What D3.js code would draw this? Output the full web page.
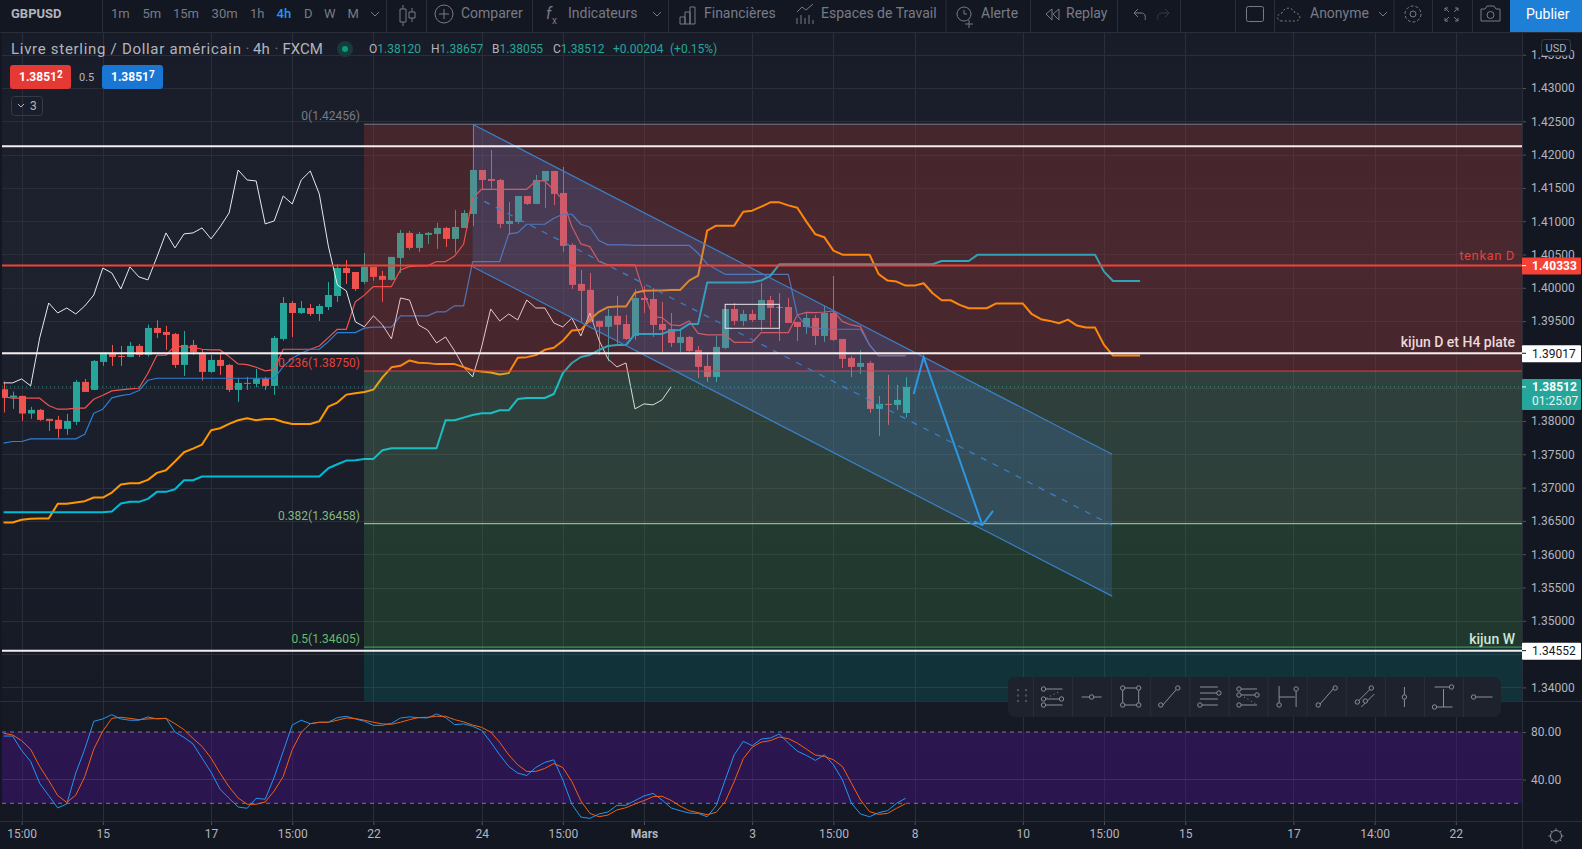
<!DOCTYPE html>
<html>
<head>
<meta charset="utf-8">
<script src="https://cdn.jsdelivr.net/npm/d3@7"></script>
<style>
  html, body { margin: 0; padding: 0; background: #131722; overflow: hidden; }
  text { font-family: Roboto, sans-serif; }
</style>
</head>
<body>
<div id="tile"></div>
<script>
var openP = [1.38477,1.38352,1.38377,1.38112,1.38167,1.38032,1.38017,1.37882,1.37987,1.38587,
  1.38467,1.38887,1.39007,1.38977,1.38962,1.39127,1.38992,1.39397,1.39337,1.39307,
  1.38842,1.39142,1.39007,1.38737,1.38917,1.38842,1.38467,1.38557,1.38557,1.38632,
  1.38527,1.39232,1.39772,1.39622,1.39697,1.39607,1.39712,1.39877,1.40297,1.40237,
  1.40089,1.40314,1.40179,1.40119,1.40449,1.40824,1.40599,1.40794,1.40809,1.40899,
  1.40734,1.40899,1.41109,1.41769,1.41634,1.41619,1.40959,1.40989,1.41379,1.41259,
  1.41604,1.41754,1.41424,1.40644,1.40059,1.39969,1.39504,1.39414,1.39579,1.39457,
  1.39277,1.39847,1.39832,1.39457,1.39382,1.39172,1.39262,1.39067,1.38827,1.38662,
  1.39097,1.39682,1.39502,1.39607,1.39517,1.39817,1.39712,1.39712,1.39487,1.39412,
  1.39547,1.39277,1.39622,1.39232,1.38947,1.38812,1.38872,1.38182,1.38257,1.38242,1.3812];
var closeP = [1.38347,1.38382,1.38112,1.38167,1.38017,1.38002,1.37882,1.38002,1.38587,1.38437,
  1.38902,1.39007,1.38962,1.38962,1.39127,1.38992,1.39397,1.39322,1.39292,1.38842,
  1.39142,1.39037,1.38737,1.38917,1.38827,1.38467,1.38572,1.38572,1.38632,1.38527,
  1.39247,1.39772,1.39622,1.39697,1.39607,1.39727,1.39892,1.40297,1.40222,1.39982,
  1.40314,1.40164,1.40119,1.40464,1.40824,1.40599,1.40809,1.40824,1.40899,1.40734,
  1.40914,1.41124,1.41769,1.41619,1.41604,1.40959,1.41004,1.41379,1.41259,1.41619,
  1.41754,1.41409,1.40629,1.40044,1.39954,1.39489,1.39414,1.39579,1.39444,1.39232,
  1.39847,1.39817,1.39442,1.39367,1.39172,1.39262,1.39052,1.38812,1.38662,1.39112,
  1.39682,1.39502,1.39607,1.39517,1.39817,1.39697,1.39697,1.39472,1.39412,1.39547,
  1.39277,1.39622,1.39217,1.38932,1.38812,1.38872,1.38182,1.38257,1.38242,1.38317,1.38512];
var highP = [1.38592,1.38442,1.38377,1.38212,1.38182,1.38032,1.38077,1.38107,1.38617,1.38632,
  1.38917,1.39017,1.39142,1.39127,1.39187,1.39157,1.39447,1.39512,1.39427,1.39322,
  1.39352,1.39217,1.39082,1.38992,1.39007,1.38857,1.38647,1.38662,1.38782,1.38662,
  1.39277,1.39862,1.39802,1.39802,1.39757,1.39757,1.40087,1.40357,1.40417,1.40237,
  1.40524,1.40314,1.40254,1.40464,1.40869,1.40854,1.40839,1.40839,1.40974,1.40914,
  1.41169,1.41169,1.42456,1.41769,1.42069,1.41634,1.41289,1.41379,1.41379,1.41694,
  1.41754,1.41754,1.41814,1.40669,1.40269,1.40224,1.39504,1.39684,1.39879,1.39592,
  1.39982,1.40027,1.39997,1.39787,1.39622,1.39382,1.39277,1.39127,1.39007,1.39277,
  1.39682,1.39772,1.39667,1.39667,1.40072,1.39877,1.39922,1.39847,1.39487,1.39622,
  1.39592,1.39727,1.40177,1.39232,1.38977,1.39067,1.38902,1.38377,1.38692,1.38542,1.38657];
var lowP = [1.38127,1.38182,1.38002,1.38032,1.38002,1.37852,1.37747,1.37792,1.37942,1.38437,
  1.38467,1.38827,1.38827,1.38827,1.38962,1.38962,1.38967,1.39247,1.39067,1.38797,
  1.38677,1.38992,1.38607,1.38722,1.38692,1.38437,1.38287,1.38467,1.38507,1.38467,
  1.38392,1.39207,1.39262,1.39607,1.39577,1.39502,1.39667,1.39787,1.40057,1.39952,
  1.40059,1.40104,1.39789,1.40109,1.40224,1.40569,1.40539,1.40659,1.40584,1.40614,
  1.40524,1.40899,1.40929,1.41469,1.41484,1.40899,1.40794,1.40959,1.41244,1.41259,
  1.41199,1.41244,1.40539,1.39984,1.39489,1.39474,1.38994,1.38894,1.39129,1.39217,
  1.39217,1.39622,1.39262,1.39037,1.39112,1.39037,1.39037,1.38647,1.38587,1.38587,
  1.39082,1.39442,1.39427,1.39487,1.39352,1.39412,1.39202,1.39472,1.39202,1.39307,
  1.39142,1.39187,1.39202,1.38797,1.38662,1.38707,1.38122,1.37777,1.37942,1.38167,1.38055];

var tenkan = [1.38367,1.38342,1.38342,1.38342,1.38342,1.38232,1.38177,1.38177,1.38192,1.38192,
  1.38327,1.38387,1.38452,1.38467,1.38482,1.38492,1.38717,1.38987,1.38987,1.39132,
  1.39107,1.39107,1.39077,1.39067,1.39067,1.38967,1.38857,1.38847,1.38807,1.38752,
  1.38772,1.39077,1.39077,1.39077,1.39077,1.39127,1.39252,1.39377,1.39377,1.39792,
  1.39890,1.40019,1.40019,1.40019,1.40269,1.40319,1.40329,1.40329,1.40394,1.40394,
  1.40479,1.40654,1.41344,1.41479,1.41479,1.41479,1.41479,1.41479,1.41479,1.41604,
  1.41604,1.41469,1.41319,1.40919,1.40659,1.40619,1.40394,1.40344,1.40344,1.40344,
  1.40344,1.39917,1.39567,1.39552,1.39442,1.39432,1.39502,1.39317,1.39292,1.39292,
  1.39292,1.39182,1.39182,1.39182,1.39327,1.39327,1.39327,1.39327,1.39592,1.39632,
  1.39627,1.39637,1.39652,1.39492,1.39442,1.39417,1.39142,1.38983,1.38983,1.38983,1.38983];
var kijun = [1.37667,1.37692,1.37692,1.37732,1.37732,1.37732,1.37732,1.37732,1.37732,1.37802,
  1.38117,1.38177,1.38347,1.38382,1.38402,1.38457,1.38612,1.38642,1.38642,1.38642,
  1.38642,1.38642,1.38642,1.38642,1.38642,1.38642,1.38642,1.38642,1.38642,1.38642,
  1.38642,1.38817,1.38942,1.39017,1.39077,1.39077,1.39192,1.39327,1.39327,1.39327,
  1.39394,1.39409,1.39409,1.39409,1.39579,1.39579,1.39579,1.39579,1.39639,1.39639,
  1.39729,1.39729,1.40394,1.40394,1.40394,1.40394,1.40809,1.40829,1.40954,1.40954,
  1.40954,1.41044,1.41104,1.41104,1.40954,1.40909,1.40709,1.40644,1.40644,1.40644,
  1.40638,1.40638,1.40638,1.40638,1.40638,1.40638,1.40638,1.40518,1.40358,1.40278,
  1.40203,1.40203,1.40203,1.40203,1.40203,1.40203,1.40203,1.40203,1.39593,1.39418,
  1.39403,1.39378,1.39378,1.39378,1.39378,1.39378,1.39143,1.38983,1.38983,1.38983,1.38983];
var chikou = [1.38572,1.38572,1.38632,1.38527,1.39247,1.39772,1.39622,1.39697,1.39607,1.39727,
  1.39892,1.40297,1.40222,1.39982,1.40314,1.40164,1.40119,1.40464,1.40824,1.40599,
  1.40809,1.40824,1.40899,1.40734,1.40914,1.41124,1.41769,1.41619,1.41604,1.40959,
  1.41004,1.41379,1.41259,1.41619,1.41754,1.41409,1.40629,1.40044,1.39954,1.39489,
  1.39414,1.39579,1.39444,1.39232,1.39847,1.39817,1.39442,1.39367,1.39172,1.39262,
  1.39052,1.38812,1.38662,1.39112,1.39682,1.39502,1.39607,1.39517,1.39817,1.39697,
  1.39697,1.39472,1.39412,1.39547,1.39277,1.39622,1.39217,1.38932,1.38812,1.38872,
  1.38182,1.38257,1.38242,1.38317,1.38512];
var spanA = [1.36476,1.36476,1.36516,1.36531,1.36536,1.36536,1.36756,1.36756,1.36776,1.36796,
  1.36851,1.36851,1.36926,1.37046,1.37066,1.37066,1.37116,1.37221,1.37261,1.37391,
  1.37531,1.37586,1.37646,1.37861,1.37891,1.37956,1.38011,1.38041,1.38011,1.38031,
  1.38031,1.37986,1.37956,1.37956,1.37956,1.37996,1.38216,1.38276,1.38396,1.38416,
  1.38436,1.38471,1.38655,1.38806,1.38829,1.38909,1.38874,1.38869,1.38854,1.38854,
  1.38854,1.38809,1.38759,1.38744,1.38729,1.38699,1.38719,1.38949,1.38959,1.38989,
  1.39069,1.39099,1.39204,1.39359,1.39369,1.39519,1.39639,1.39709,1.39719,1.39719,
  1.39926,1.39956,1.39958,1.39958,1.39968,1.39968,1.40108,1.40183,1.40858,1.40933,
  1.40933,1.40933,1.41143,1.41158,1.41218,1.41283,1.41283,1.41238,1.41203,1.40993,
  1.40803,1.40758,1.40558,1.40498,1.40498,1.40498,1.40498,1.40208,1.40108,1.40093,
  1.40033,1.40033,1.40068,1.39918,1.39813,1.39813,1.39743,1.39693,1.39693,1.39693,
  1.39763,1.39763,1.39763,1.39763,1.39603,1.39528,1.39503,1.39468,1.39523,1.39433,
  1.39403,1.39403,1.39143,1.38983,1.38983,1.38983,1.38983];
var spanB = [1.36631,1.36631,1.36631,1.36631,1.36631,1.36631,1.36631,1.36631,1.36631,1.36631,
  1.36631,1.36631,1.36641,1.36761,1.36786,1.36786,1.36831,1.36936,1.36936,1.36976,
  1.37111,1.37111,1.37166,1.37166,1.37166,1.37166,1.37166,1.37166,1.37166,1.37166,
  1.37166,1.37166,1.37166,1.37166,1.37166,1.37166,1.37291,1.37351,1.37406,1.37411,
  1.37431,1.37431,1.37561,1.37591,1.37591,1.37591,1.37591,1.37591,1.37591,1.38011,
  1.38011,1.38051,1.38091,1.38116,1.38116,1.38161,1.38161,1.38330,1.38345,1.38345,
  1.38345,1.38405,1.38720,1.38871,1.38961,1.38991,1.39066,1.39126,1.39141,1.39141,
  1.39306,1.39306,1.39308,1.39308,1.39358,1.39368,1.39458,1.39458,1.40078,1.40078,
  1.40078,1.40078,1.40078,1.40083,1.40108,1.40178,1.40353,1.40353,1.40353,1.40353,
  1.40353,1.40353,1.40353,1.40353,1.40353,1.40353,1.40353,1.40353,1.40353,1.40353,
  1.40353,1.40353,1.40353,1.40353,1.40403,1.40403,1.40403,1.40403,1.40498,1.40498,
  1.40498,1.40498,1.40498,1.40498,1.40498,1.40498,1.40498,1.40498,1.40498,1.40498,
  1.40498,1.40498,1.40243,1.40103,1.40103,1.40103,1.40103];

var stochK = [76.6,76.6,64.5,55.2,36.9,26.5,16.1,19.4,45.4,65.6,89.0,91.0,94.6,91.0,89.9,89.9,92.7,91.0,91.5,80.0,
  75.5,69.9,58.0,46.2,31.8,24.2,16.9,15.8,24.2,23.4,42.0,63.7,85.9,89.9,87.0,88.2,88.2,92.1,93.2,91.0,
  89.0,85.6,85.6,87.3,91.8,92.7,92.1,91.8,95.2,92.1,86.2,86.8,84.8,81.4,71.5,60.8,51.0,45.4,43.4,50.1,
  54.4,56.6,39.7,19.2,8.4,7.3,11.0,12.7,18.3,18.3,22.3,26.2,28.4,22.8,16.1,13.8,11.8,11.5,8.7,18.0,
  39.7,60.8,72.1,68.5,74.1,74.9,78.3,70.7,63.9,60.3,56.1,60.8,52.4,39.7,20.0,11.0,8.7,12.1,13.8,20.0,24.2];
var stochD = [78.9,77.5,72.7,65.4,51.0,39.2,26.5,20.8,26.8,42.5,65.6,80.8,91.5,92.4,91.5,90.4,91.0,91.3,91.5,87.0,
  82.0,74.6,67.9,58.0,45.4,33.8,24.5,19.2,19.2,21.1,30.4,42.5,65.1,79.7,87.0,88.2,88.2,89.9,91.8,91.3,
  89.9,88.2,86.8,86.5,88.2,90.4,92.1,92.4,93.2,93.2,90.4,88.5,85.9,83.9,80.0,71.3,60.8,52.4,46.8,46.8,
  49.3,53.5,50.1,38.3,22.0,11.5,8.7,10.1,14.4,16.3,19.4,22.3,25.6,25.9,22.5,17.7,13.8,12.1,10.4,12.4,
  21.4,38.3,57.5,67.3,71.5,72.7,75.8,74.4,70.7,65.6,60.6,59.4,56.6,51.0,36.9,22.8,13.0,10.7,11.5,15.8,19.7];

var timeIdx = [2,11,23,32,41,53,62,71,83,92,101,113,122,131,143,152,161];
var timeLabels = ["15:00","15","17","15:00","22","24","15:00","Mars","3","15:00","8","10","15:00","15","17","14:00","22"];
var priceTicks = [1.34,1.345,1.35,1.355,1.36,1.365,1.37,1.375,1.38,1.385,1.39,1.395,1.4,1.405,1.41,1.415,1.42,1.425,1.43,1.435];
var hiddenTicks = [1.345,1.385,1.39]; // covered by the price badges
var stochTicks = [80,40];

var fibLevels = [1.42456,1.3875,1.36458,1.34605];
var fibLabels = ["0(1.42456)","0.236(1.38750)","0.382(1.36458)","0.5(1.34605)"];
var whiteLevels = [1.42125,1.39017,1.34552];
var tenkanD = 1.40333, lastClose = 1.38512;

var channelTop = [[52,1.42456],[122.9,1.3750]];
var channelMid = [[52,1.41387],[122.9,1.36435]];
var channelBot = [[52,1.40317],[122.9,1.3537]];
var arrowPts = [[100.9,1.38405],[102,1.3896],[108.5,1.36438]];
var arrowHead = [[107.6,1.36490],[108.5,1.36438],[109.7,1.36650]];
var boxI = [80.0,86.0], boxP = [1.39752,1.39392];

var W = 1582, H = 849, axisX = 1522, topY = 33, paneY = 701, timeY = 821;

var x = d3.scaleLinear().domain([0,161]).range([3.6,1455.8]);
var y = d3.scaleLinear().domain([1.34,1.43]).range([687.4,88]);
var ys = d3.scaleLinear().domain([20,80]).range([803.3,732]);

var svg = d3.select("#tile").append("svg").attr("width", W).attr("height", H).style("display","block");
var defs = svg.append("defs");

var grad = defs.append("linearGradient").attr("id","bg").attr("x1",0).attr("x2",0).attr("y1",0).attr("y2",1);
grad.append("stop").attr("offset","0%").attr("stop-color","#171b27");
grad.append("stop").attr("offset","30%").attr("stop-color","#1e222e");
grad.append("stop").attr("offset","100%").attr("stop-color","#131722");

defs.append("clipPath").attr("id","pricePane").append("rect").attr("x",2).attr("y",topY).attr("width",axisX-2).attr("height",paneY-topY);
defs.append("clipPath").attr("id","stochPane").append("rect").attr("x",2).attr("y",paneY).attr("width",axisX-2).attr("height",timeY-paneY);

svg.append("rect").attr("width",W).attr("height",H).attr("fill","url(#bg)");

// grid
var grid = svg.append("g").attr("stroke","#2a2e39").attr("stroke-width",1);
priceTicks.forEach(function(p){
  grid.append("line").attr("x1",2).attr("x2",axisX).attr("y1",Math.round(y(p))+.5).attr("y2",Math.round(y(p))+.5);
});
timeIdx.forEach(function(i){
  grid.append("line").attr("x1",Math.round(x(i))+.5).attr("x2",Math.round(x(i))+.5).attr("y1",topY).attr("y2",timeY);
});

var price = svg.append("g").attr("clip-path","url(#pricePane)");

// candles
var idx = d3.range(openP.length);
var up = "#26a69a", down = "#ef5350";
function col(i){ return closeP[i] >= openP[i] ? up : down; }
price.append("g").selectAll("line").data(idx).enter().append("line")
  .attr("x1",function(i){return Math.round(x(i))+.5;})
  .attr("x2",function(i){return Math.round(x(i))+.5;})
  .attr("y1",function(i){return y(highP[i]);})
  .attr("y2",function(i){return y(lowP[i]);})
  .attr("stroke",col);
price.append("g").selectAll("rect").data(idx).enter().append("rect")
  .attr("x",function(i){return Math.round(x(i))-3;})
  .attr("width",7)
  .attr("y",function(i){return y(Math.max(openP[i],closeP[i]));})
  .attr("height",function(i){return Math.max(1,Math.abs(y(openP[i])-y(closeP[i])));})
  .attr("fill",col);

// ichimoku
var line = d3.line().x(function(d,i){return x(i);}).y(function(d){return y(d);});
function drawLine(g, data, color, w){
  g.append("path").attr("d",line(data)).attr("fill","none").attr("stroke",color).attr("stroke-width",w).attr("stroke-linejoin","round");
}
drawLine(price, tenkan, "#ef5350", 1.2);
drawLine(price, kijun, "#2d7fd3", 1.2);
drawLine(price, chikou, "#e6e8ee", 1);
drawLine(price, spanA, "#ff9800", 2);
drawLine(price, spanB, "#00bcd4", 2);

// fib zones sit on top of the candles
var fibLeft = 364;
var zoneColors = ["#f44336","#81c784","#4caf50","#009688"];
var lineColors = ["#787b86","#e5403a","#a5d6a7","#4caf50"];
var zoneEdges = fibLevels.concat([y.invert(paneY)]);
for (var z = 0; z < 4; z++) {
  price.append("rect").attr("x",fibLeft).attr("width",axisX-fibLeft)
    .attr("y",y(zoneEdges[z])).attr("height",y(zoneEdges[z+1])-y(zoneEdges[z]))
    .attr("fill",zoneColors[z]).attr("fill-opacity",.2);
}
fibLevels.forEach(function(p,k){
  price.append("line").attr("x1",fibLeft).attr("x2",axisX).attr("y1",y(p)).attr("y2",y(p)).attr("stroke",lineColors[k]);
  svg.append("text").attr("x",fibLeft-4).attr("y",y(p)-4).attr("text-anchor","end").attr("font-size",12)
    .attr("fill",["#787b86","#e5403a","#81b884","#66bb6a"][k]).text(fibLabels[k]);
});

// last price dots
price.append("line").attr("x1",2).attr("x2",axisX).attr("y1",y(lastClose)).attr("y2",y(lastClose))
  .attr("stroke","#26a69a").attr("stroke-dasharray","1 3").attr("opacity",.9);

// channel
var pt = function(d){ return [x(d[0]),y(d[1])]; };
var poly = channelTop.concat(channelBot.slice().reverse()).map(pt);
price.append("polygon").attr("points",poly.join(" ")).attr("fill","#4a86e0").attr("fill-opacity",.2);
var seg = d3.line().x(function(d){return x(d[0]);}).y(function(d){return y(d[1]);});
price.append("path").attr("d",seg(channelTop)).attr("stroke","#3a80c8").attr("fill","none").attr("stroke-width",1.2);
price.append("path").attr("d",seg(channelBot)).attr("stroke","#3a80c8").attr("fill","none").attr("stroke-width",1.2);
price.append("path").attr("d",seg(channelMid)).attr("stroke","#3a80c8").attr("fill","none").attr("stroke-width",1.2).attr("stroke-dasharray","6 7");
price.append("path").attr("d",seg(arrowPts)).attr("stroke","#2d97e0").attr("fill","none").attr("stroke-width",2);
price.append("path").attr("d",seg(arrowHead)).attr("stroke","#2d97e0").attr("fill","none").attr("stroke-width",2);
price.append("rect").attr("x",x(boxI[0])).attr("y",y(boxP[0])).attr("width",x(boxI[1])-x(boxI[0])).attr("height",y(boxP[1])-y(boxP[0]))
  .attr("fill","none").attr("stroke","#e8e4ea");

// horizontal levels
whiteLevels.forEach(function(p){
  price.append("line").attr("x1",2).attr("x2",axisX).attr("y1",y(p)).attr("y2",y(p)).attr("stroke","#f4eeee").attr("stroke-width",2);
});
price.append("line").attr("x1",2).attr("x2",axisX).attr("y1",y(tenkanD)).attr("y2",y(tenkanD)).attr("stroke","#f44336").attr("stroke-width",2);

svg.append("text").attr("x",1515).attr("y",260).attr("text-anchor","end").attr("font-size",13).attr("fill","#e5403a").attr("letter-spacing",.6).text("tenkan D");
svg.append("text").attr("x",1515).attr("y",347).attr("text-anchor","end").attr("font-size",14).attr("font-weight",500).attr("fill","#ecd9d9").text("kijun D et H4 plate");
svg.append("text").attr("x",1515).attr("y",644).attr("text-anchor","end").attr("font-size",14).attr("font-weight",500).attr("fill","#cfe5d6").text("kijun W");

// stochastic pane
var stoch = svg.append("g").attr("clip-path","url(#stochPane)");
stoch.append("rect").attr("x",2).attr("width",axisX-2).attr("y",ys(80)).attr("height",ys(20)-ys(80)).attr("fill","#4a148c").attr("fill-opacity",.42);
stoch.append("line").attr("x1",2).attr("x2",axisX).attr("y1",ys(40)).attr("y2",ys(40)).attr("stroke","#43306a");
[80,20].forEach(function(v){
  stoch.append("line").attr("x1",2).attr("x2",axisX).attr("y1",ys(v)).attr("y2",ys(v)).attr("stroke","#787b86").attr("stroke-dasharray","4 4");
});
var sline = d3.line().x(function(d,i){return x(i);}).y(function(d){return ys(d);});
stoch.append("path").attr("d",sline(stochK)).attr("fill","none").attr("stroke","#2196f3").attr("stroke-width",1);
stoch.append("path").attr("d",sline(stochD)).attr("fill","none").attr("stroke","#f4600c").attr("stroke-width",1);

// axes
svg.append("rect").attr("x",axisX).attr("y",topY).attr("width",W-axisX).attr("height",H-topY).attr("fill","#131722");
svg.append("rect").attr("x",0).attr("y",timeY).attr("width",axisX).attr("height",H-timeY).attr("fill","#131722");
svg.append("rect").attr("x",0).attr("y",topY).attr("width",2).attr("height",H-topY).attr("fill","#131722");

var ax1 = svg.append("g").attr("transform","translate("+axisX+",0)")
  .call(d3.axisRight(y).tickValues(priceTicks.filter(function(p){return hiddenTicks.indexOf(p)<0;})).tickSize(4).tickPadding(5).tickFormat(d3.format(".5f")));
var ax2 = svg.append("g").attr("transform","translate("+axisX+",0)")
  .call(d3.axisRight(ys).tickValues(stochTicks).tickSize(4).tickPadding(5).tickFormat(d3.format(".2f")));
var ax3 = svg.append("g").attr("transform","translate(0,"+timeY+")")
  .call(d3.axisBottom(x).tickValues(timeIdx).tickSize(4).tickPadding(4).tickFormat(function(d,i){return timeLabels[i];}));
[ax1,ax2,ax3].forEach(function(a){
  a.attr("font-family","Roboto, sans-serif").attr("font-size",12);
  a.selectAll("text").attr("fill","#b2b5be");
  a.selectAll("line").attr("stroke","#50535e");
  a.select(".domain").remove();
});
ax3.selectAll("text").filter(function(d,i){return timeLabels[i]=="Mars";}).attr("font-weight",700);
svg.append("line").attr("x1",axisX+.5).attr("x2",axisX+.5).attr("y1",topY).attr("y2",H).attr("stroke","#2a2e39");
svg.append("line").attr("x1",0).attr("x2",W).attr("y1",paneY+.5).attr("y2",paneY+.5).attr("stroke","#2a2e39");
svg.append("line").attr("x1",0).attr("x2",W).attr("y1",timeY+.5).attr("y2",timeY+.5).attr("stroke","#2a2e39");

// USD box over the top tick
svg.append("rect").attr("x",1541.5).attr("y",39.5).attr("width",29).attr("height",16).attr("rx",3).attr("fill","#131722").attr("stroke","#363a45");
svg.append("text").attr("x",1556).attr("y",52).attr("text-anchor","middle").attr("font-size",11).attr("fill","#b2b5be").text("USD");

// price badges
function badge(p, ty, h, bg, fg, label){
  svg.append("rect").attr("x",axisX).attr("y",ty).attr("width",W-axisX-1).attr("height",h).attr("rx",1).attr("fill",bg);
  svg.append("line").attr("x1",axisX).attr("x2",axisX+4).attr("y1",y(p)).attr("y2",y(p)).attr("stroke",fg);
  svg.append("text").attr("x",1532).attr("y",ty+12.5).attr("font-size",12).attr("font-weight",fg=="#fff"?700:400).attr("fill",fg).text(label);
}
badge(tenkanD, y(tenkanD)-8, 17, "#f44336", "#fff", "1.40333");
badge(1.39017, y(1.39017)-8, 17, "#ffffff", "#131722", "1.39017");
badge(lastClose, y(lastClose)-8, 31, "#26a69a", "#fff", "1.38512");
svg.append("text").attr("x",1532).attr("y",y(lastClose)+18).attr("font-size",12).attr("fill","#e6f5f3").text("01:25:07");
badge(1.34552, y(1.34552)-8, 17, "#ffffff", "#131722", "1.34552");

// drawing toolbar
var tb = svg.append("g");
tb.append("rect").attr("x",1008).attr("y",677).attr("width",493).attr("height",40).attr("rx",7).attr("fill","#1e222d");
var tbStep = 39.1, tbFirst = 1052.5, tbY = 697, ic = "#8a8e99";
function icon(n, segs, circs){
  var cx = tbFirst + n*tbStep;
  segs.forEach(function(s){
    tb.append("line").attr("x1",cx+s[0]).attr("y1",tbY+s[1]).attr("x2",cx+s[2]).attr("y2",tbY+s[3]).attr("stroke",ic).attr("stroke-dasharray",s[4]||null);
  });
  circs.forEach(function(c){
    tb.append("circle").attr("cx",cx+c[0]).attr("cy",tbY+c[1]).attr("r",2.2).attr("fill","#1e222d").attr("stroke",ic);
  });
}
for (var s = 0; s < 12; s++) {
  tb.append("line").attr("x1",1033.5+s*tbStep).attr("x2",1033.5+s*tbStep).attr("y1",677).attr("y2",717).attr("stroke","#2a2e39");
}
icon(0,[[-9,-8,10,-8],[-9,2,9,2],[-9,8,10,8],[-6,1,8,-6,"1 3"]],[[-9,-8],[-9,2],[9,2],[-9,8]]);
icon(1,[[-10,0,10,0]],[[0,0]]);
icon(2,[[-8,-9,8,-9],[-8,8,8,8],[-8,-9,-8,8],[8,-9,8,8]],[[-8,-9],[8,-9],[-8,8],[8,8]]);
icon(3,[[-7,8,7,-8]],[[-9,8],[8,-9]]);
icon(4,[[-9,-10,9,-10],[-9,-4,8,-4],[-9,2,9,2],[-9,8,9,8]],[[10,-4],[-9,8]]);
icon(5,[[-9,-8,9,-8],[-9,-2,9,-2],[-9,8,9,8],[-4,0,8,7,"1 3"]],[[-9,-8],[-9,-2],[9,-2],[-9,8]]);
icon(6,[[-8,-11,-8,10],[9,-10,9,10],[-8,0,8,0]],[[-8,8],[9,-8]]);
icon(7,[[-7,8,7,-8]],[[-8,8],[9,-9]]);
icon(8,[[-8,5,6,-9],[-4,10,9,-3]],[[-8,5],[6,-9],[0,4]]);
icon(9,[[0,-10,0,10]],[[0,0]]);
icon(10,[[-9,-10,8,-10],[-9,10,9,10],[0,-8,0,10]],[[8,-10],[-9,10]]);
icon(11,[[-8,0,10,0]],[[-9,0]]);
[0,1,2].forEach(function(r){
  [0,8].forEach(function(c){
    tb.append("rect").attr("x",1017+c).attr("y",689+r*5.5).attr("width",2).attr("height",2).attr("fill","#50535e");
  });
});

// gear bottom right
svg.append("circle").attr("cx",1556).attr("cy",836).attr("r",5.5).attr("fill","none").attr("stroke","#8a8e99");
[0,45,90,135,180,225,270,315].forEach(function(a){
  var r = a*Math.PI/180;
  svg.append("line").attr("x1",1556+Math.cos(r)*5.5).attr("y1",836+Math.sin(r)*5.5).attr("x2",1556+Math.cos(r)*7.5).attr("y2",836+Math.sin(r)*7.5).attr("stroke","#8a8e99");
});

// top toolbar
var bar = svg.append("g");
bar.append("rect").attr("width",W).attr("height",topY-1).attr("fill","#131722");
bar.append("line").attr("x1",0).attr("x2",W).attr("y1",32.5).attr("y2",32.5).attr("stroke","#2a2e39");
[102,386,426,532,668,945.5,1030,1117,1180,1235,1274,1393.5,1432,1472].forEach(function(v){
  bar.append("line").attr("x1",v+.5).attr("x2",v+.5).attr("y1",0).attr("y2",32).attr("stroke","#2a2e39");
});
function tbText(v, t, c, w, fs){
  bar.append("text").attr("x",v).attr("y",18).attr("font-size",fs||13).attr("font-weight",w||400).attr("fill",c||"#787b86").text(t);
}
tbText(11,"GBPUSD","#b2b5be",700);
var intervals = ["1m","5m","15m","30m","1h","4h","D","W","M"];
var intervalX = [111,142.5,173,211.6,250,276.6,304,324,347.6];
intervals.forEach(function(t,k){ tbText(intervalX[k],t,t=="4h"?"#2196f3":"#787b86",t=="4h"?500:400); });
tbText(461,"Comparer",null,400,14);
tbText(568,"Indicateurs",null,400,14);
tbText(704,"Financières",null,400,14);
tbText(821,"Espaces de Travail",null,400,14);
tbText(981,"Alerte",null,400,14);
tbText(1066,"Replay",null,400,14);
tbText(1310,"Anonyme",null,400,14);

function ipath(d){ bar.append("path").attr("d",d).attr("fill","none").attr("stroke","#787b86"); }
ipath("M371 12l4 4 4-4");ipath("M653 12l4 4 4-4");ipath("M1379 12l4 4 4-4");
ipath("M403 5v4M403 22v4M400 9h6v13h-6zM412 8v4M412 18v4M409 12h6v6h-6z");
bar.append("circle").attr("cx",444).attr("cy",14).attr("r",9).attr("fill","none").attr("stroke","#787b86");
ipath("M439 14h10M444 9v10");
bar.append("text").attr("x",546).attr("y",19).attr("font-size",16).attr("font-style","italic").attr("fill","#787b86").text("f");
bar.append("text").attr("x",552).attr("y",24).attr("font-size",10).attr("fill","#787b86").text("x");
ipath("M680 24v-7h5v7zM685 24v-12h5v12zM690 24v-17h5v17z");
ipath("M797 24v-6M801 24v-9M805 24v-6M809 24v-9M813 24v-4M797 12l5-5 4 3 7-6");
bar.append("circle").attr("cx",964).attr("cy",14).attr("r",7).attr("fill","none").attr("stroke","#787b86");
ipath("M964 10v4h3M965 24h8M969 20v8");
ipath("M1046 14l6-5v11zM1053 14l6-5v11z");
ipath("M1138 9l-4 4 4 4M1134 13h7c4 0 5 3 4 7");
bar.append("path").attr("d","M1157 9l4 4-4 4M1161 13h-7c-4 0-5 3-4 7").attr("transform","translate(8,0)").attr("fill","none").attr("stroke","#363a45");
bar.append("rect").attr("x",1246.5).attr("y",6.5).attr("width",17).attr("height",15).attr("rx",2).attr("fill","none").attr("stroke","#787b86");
bar.append("path").attr("d","M1282 21c-6 0-6-7 0-8 2-6 10-7 13 0 6 0 7 8 0 8z").attr("fill","none").attr("stroke","#787b86").attr("stroke-dasharray","2 2");
bar.append("circle").attr("cx",1413).attr("cy",14).attr("r",3).attr("fill","none").attr("stroke","#787b86");
bar.append("circle").attr("cx",1413).attr("cy",14).attr("r",8).attr("fill","none").attr("stroke","#787b86").attr("stroke-dasharray","3 2");
ipath("M1445 8l4 4M1445 8h3M1445 8v3M1458 8l-4 4M1458 8h-3M1458 8v3M1445 21l4-4M1445 21h3M1445 21v-3M1458 21l-4-4M1458 21h-3M1458 21v-3");
ipath("M1481 9h4l2-3h7l2 3h4v12h-19z");
bar.append("circle").attr("cx",1490.5).attr("cy",15).attr("r",3.5).attr("fill","none").attr("stroke","#787b86");
bar.append("rect").attr("x",1510).attr("width",W-1510).attr("height",32).attr("fill","#1e7fd6");
bar.append("text").attr("x",1526).attr("y",18.5).attr("font-size",14).attr("fill","#fff").text("Publier");

// legend
var leg = svg.append("g");
leg.append("text").attr("x",11).attr("y",54).attr("font-size",15).attr("fill","#b2b5be").attr("textLength",230).attr("lengthAdjust","spacing").text("Livre sterling / Dollar américain");
leg.append("text").attr("x",245.5).attr("y",54).attr("font-size",15).attr("fill","#787b86").text("·");
leg.append("text").attr("x",253).attr("y",54).attr("font-size",15).attr("fill","#b2b5be").text("4h");
leg.append("text").attr("x",274.5).attr("y",54).attr("font-size",15).attr("fill","#787b86").text("·");
leg.append("text").attr("x",282.5).attr("y",54).attr("font-size",15).attr("fill","#b2b5be").text("FXCM");
leg.append("circle").attr("cx",345).attr("cy",49).attr("r",8).attr("fill","#173a3a");
leg.append("circle").attr("cx",345).attr("cy",49).attr("r",3).attr("fill","#089981");
var ohlcKeys = ["O","H","B","C"];
var ohlcVals = ["1.38120","1.38657","1.38055","1.38512"];
var ohlcX = [369,431,492,553];
ohlcKeys.forEach(function(k,n){
  var t = leg.append("text").attr("x",ohlcX[n]).attr("y",53).attr("font-size",12);
  t.append("tspan").attr("fill","#b2b5be").text(k);
  t.append("tspan").attr("fill","#26a69a").text(ohlcVals[n]);
});
leg.append("text").attr("x",613).attr("y",53).attr("font-size",12).attr("fill","#26a69a").text("+0.00204");
leg.append("text").attr("x",670).attr("y",53).attr("font-size",12).attr("fill","#26a69a").text("(+0.15%)");

leg.append("rect").attr("x",10).attr("y",65).attr("width",61).attr("height",24).attr("rx",3).attr("fill","#e53935");
var bt1 = leg.append("text").attr("x",19).attr("y",81).attr("font-size",12).attr("font-weight",700).attr("fill","#fff").text("1.3851");
bt1.append("tspan").attr("dy",-3).attr("font-size",10).text("2");
leg.append("text").attr("x",79).attr("y",81).attr("font-size",11).attr("fill","#b2b5be").text("0.5");
leg.append("rect").attr("x",102).attr("y",65).attr("width",61).attr("height",24).attr("rx",3).attr("fill","#1976d2");
var bt2 = leg.append("text").attr("x",111).attr("y",81).attr("font-size",12).attr("font-weight",700).attr("fill","#fff").text("1.3851");
bt2.append("tspan").attr("dy",-3).attr("font-size",10).text("7");
leg.append("rect").attr("x",11.5).attr("y",96.5).attr("width",31).attr("height",19).attr("rx",3).attr("fill","none").attr("stroke","#363a45");
leg.append("path").attr("d","M18 104l3 3 3-3").attr("fill","none").attr("stroke","#b2b5be");
leg.append("text").attr("x",30).attr("y",110).attr("font-size",12).attr("fill","#b2b5be").text("3");
</script>
</body>
</html>
